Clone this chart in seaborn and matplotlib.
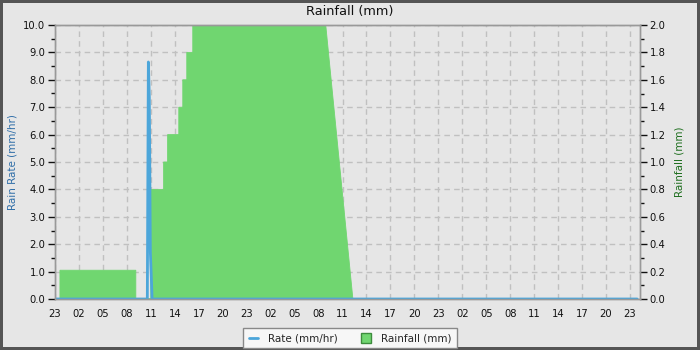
import numpy as np
import pandas as pd
import matplotlib
matplotlib.use("Agg")
import matplotlib.pyplot as plt
from matplotlib.lines import Line2D
import seaborn as sns

# ---- data (hours since 23:00 of first day) ----
tick_hours = list(range(0, 73, 3))
tick_labels = [f"{(23 + h) % 24:02d}" for h in tick_hours]

rate_hours = [0.0, 11.56, 11.69, 11.81, 11.94, 12.06, 12.16, 72.9]
rate_mmhr = [0.0, 0.0, 8.65, 7.35, 1.7, 0.8, 0.0, 0.0]

rain_step_hours = [0.62, 10.12, 12.0, 13.6, 14.1, 15.5, 16.0, 16.5, 17.25, 33.9]
rain_step_mm = [0.21, 0.0, 0.8, 1.0, 1.2, 1.4, 1.6, 1.8, 2.0, 2.0]
rain_ramp_end_hour = 37.3
rain_ramp_end_mm = 0.0

BG = "#e6e6e6"
BLUE = "#4ca6da"
GREEN = "#70d670"

sns.set_style("white")
plt.rcParams["font.family"] = ["DejaVu Sans"]

fig = plt.figure(figsize=(7, 3.5), dpi=100)
fig.patch.set_facecolor(BG)
fig.patch.set_edgecolor("#555555")
fig.patch.set_linewidth(3)

ax = fig.add_axes([55 / 700, 1 - 299 / 350, (640 - 55) / 700, (299 - 25) / 350])
ax2 = ax.twinx()

ax2.set_zorder(1)
ax.set_zorder(2)
ax.patch.set_visible(False)
ax2.patch.set_visible(True)
ax2.patch.set_facecolor(BG)

# one outline for the rainfall area: stepped part, then straight ramp down
px, py = [0.0], [0.0]
for h, v in zip(rain_step_hours, rain_step_mm):
    px += [h, h]
    py += [py[-1], v]
px += [rain_ramp_end_hour]
py += [rain_ramp_end_mm]
ax2.fill(px, py, facecolor=GREEN, edgecolor=GREEN, linewidth=0.6, zorder=2)

# rate on left axis
df_rate = pd.DataFrame({"h": rate_hours, "r": rate_mmhr})
sns.lineplot(data=df_rate, x="h", y="r", ax=ax, color=BLUE, linewidth=2, sort=False, estimator=None)

ax.set_xlim(0, 73.25)
ax.set_ylim(0, 10)
ax2.set_ylim(0, 2)

ax.set_xticks(tick_hours)
ax.set_xticklabels(tick_labels)
ax.set_xticks(np.arange(0, 74, 1), minor=True)
ax.set_yticks(np.arange(0, 10.01, 1.0))
ax.set_yticklabels([f"{v:.1f}" for v in np.arange(0, 10.01, 1.0)])
ax.set_yticks(np.arange(0, 10.01, 0.5), minor=True)
ax2.set_yticks(np.arange(0, 2.001, 0.2))
ax2.set_yticklabels([f"{v:.1f}" for v in np.arange(0, 2.001, 0.2)])
ax2.set_yticks(np.arange(0, 2.001, 0.1), minor=True)

for a in (ax, ax2):
    a.tick_params(which="major", length=5, width=1, color="#111111", labelcolor="#111111",
                  labelsize=7.2, pad=2)
    a.tick_params(which="minor", length=3, width=1, color="#111111")
    for s in a.spines.values():
        s.set_color("#999999")
        s.set_linewidth(1)

ax.set_xlabel("")
ax.set_ylabel("Rain Rate (mm/hr)", color="#2f6ea8", fontsize=7.5, labelpad=4)
ax2.set_ylabel("Rainfall (mm)", color="#1f6f1f", fontsize=7.5, labelpad=6)

# grid on lower axes
ax2.xaxis.set_visible(True)
ax2.tick_params(axis="x", which="both", bottom=False, top=False, labelbottom=False, labeltop=False)
ax2.grid(True, which="major", axis="both", color="#c0c0c0", linestyle=(0, (4, 3)), linewidth=1, zorder=0)
ax2.set_axisbelow(True)
ax.grid(False)

fig.text(0.5, 1 - 12 / 350, "Rainfall (mm)", ha="center", va="center", fontsize=9.3, color="#111111")

handles = [
    Line2D([], [], color=BLUE, linewidth=2),
    Line2D([], [], marker="s", linestyle="none", markerfacecolor=GREEN,
           markeredgecolor="#3d8c3d", markersize=7),
]
leg = fig.legend(handles, ["Rate (mm/hr)", "Rainfall (mm)"], loc="lower center",
                 bbox_to_anchor=(0.5, 0.0), ncol=2, fontsize=7.5, frameon=True,
                 fancybox=False, handlelength=0.9, columnspacing=2.2, borderpad=0.5,
                 borderaxespad=0.15, handletextpad=1.0)
leg.get_frame().set_facecolor("#f7f7f7")
leg.get_frame().set_edgecolor("#888888")
leg.get_frame().set_alpha(1)

fig.savefig("out.png", dpi=100, facecolor=fig.get_facecolor(), edgecolor=fig.get_edgecolor())
